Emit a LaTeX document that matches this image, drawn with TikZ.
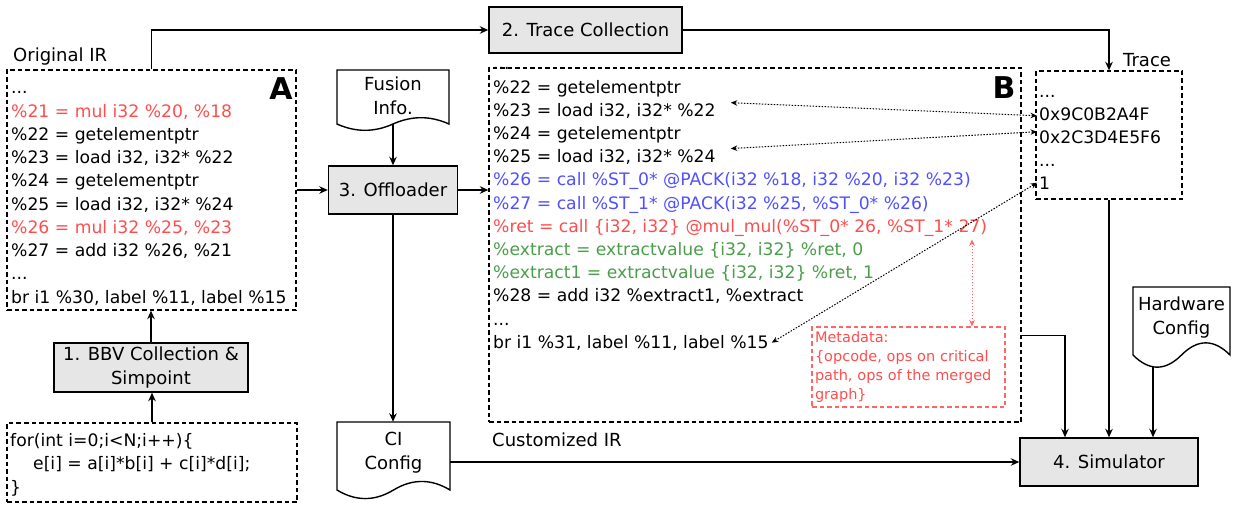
\documentclass[tikz,border=0pt]{standalone}
\usepackage{fontspec}
\setmainfont{DejaVu Sans}
\usetikzlibrary{arrows.meta,calc}
\definecolor{irred}{HTML}{FF4D4D}
\definecolor{irblue}{HTML}{5050FF}
\definecolor{irgreen}{HTML}{4A9E4A}
\definecolor{boxgray}{HTML}{E6E6E6}
\definecolor{metared}{HTML}{FF6666}
\newcommand\fcode{\fontsize{17.2}{23.25}\selectfont}
\newcommand\flabel{\fontsize{18}{24}\selectfont}
\newcommand\fmeta{\fontsize{14.5}{19}\selectfont}
\newcommand\fbig{\fontsize{30}{30}\selectfont\bfseries}
\newcommand\docshape[5]{%
  \draw[docline] (#1,#2) -- (#3,#2) -- (#3,#4)
    .. controls ({#3-(#3-#1)/6},{#4-0.6*#5}) and ({(#1+#3)/2+(#3-#1)/6},{#4-0.6*#5}) .. ({(#1+#3)/2},#4)
    .. controls ({(#1+#3)/2-(#3-#1)/6},{#4+0.6*#5}) and ({#1+(#3-#1)/6},{#4+0.6*#5}) .. (#1,#4) -- cycle;}
\tikzset{
  procbox/.style={draw=black, fill=boxgray, line width=1.4pt, inner sep=0pt, align=center, font=\flabel},
  dashbox/.style={draw=black, dash pattern=on 4.5pt off 3pt, line width=1.3pt, inner sep=0pt},
  holder/.style={inner sep=0pt},
  cl/.style={anchor=base west, inner sep=0pt, font=\fcode},
  lbl/.style={anchor=base west, inner sep=0pt, font=\flabel},
  doctext/.style={inner sep=0pt, align=center, font=\flabel},
  arr/.style={line width=1.4pt, -{Stealth[length=8.5pt,width=7.5pt]}},
  dotarr/.style={line width=1pt, dash pattern=on 1.5pt off 1.5pt, {Stealth[length=6.5pt,width=5.5pt]}-{Stealth[length=6.5pt,width=5.5pt]}},
  reddot/.style={draw=metared, line width=1pt, dash pattern=on 1.5pt off 1.5pt, {Stealth[length=6.5pt,width=5.5pt]}-{Stealth[length=6.5pt,width=5.5pt]}},
  docline/.style={draw=black, line width=1.4pt, fill=white},
  metabox/.style={draw=metared, dash pattern=on 4.5pt off 3pt, line width=1.2pt, text=irred, font=\fmeta, align=left, inner sep=2pt},
}
\begin{document}
\begin{tikzpicture}[x=1pt,y=-1pt]
\useasboundingbox (0,0) rectangle (1236,507);

% ---------- boxes ----------
\node[dashbox, minimum width=289pt, minimum height=240pt] (A) at (151.5,190) {};
\node[dashbox, minimum width=532pt, minimum height=354pt] (B) at (755,245) {};
\node[dashbox, minimum width=146pt, minimum height=128pt] (trace) at (1109,135) {};
\node[dashbox, minimum width=290pt, minimum height=79pt] (code) at (152,462.5) {};

\node[procbox, minimum width=193pt, minimum height=46pt] (tc) at (585.5,30) {2. Trace Collection};
\node[procbox, minimum width=129pt, minimum height=48pt] (off) at (393,190) {3. Offloader};
\node[procbox, minimum width=194pt, minimum height=49pt] (bbv) at (151,367.5) {1. BBV Collection \&\\Simpoint};
\node[procbox, minimum width=178pt, minimum height=48pt] (sim) at (1109,462) {4. Simulator};

% ---------- documents ----------
\docshape{337}{70}{449}{124}{14}
\node[holder, minimum width=112pt, minimum height=54pt] (fusion) at (393,97) {};
\node[doctext] (fusiontxt) at (393,96) {Fusion\\Info.};

\docshape{337}{422}{450}{490}{19}
\node[holder, minimum width=113pt, minimum height=68pt] (ci) at (393.5,456) {};
\node[doctext] (citxt) at (393.5,453) {CI\\Config};

\docshape{1133}{287}{1230}{355}{27}
\node[holder, minimum width=97pt, minimum height=68pt] (hw) at (1181.5,321) {};
\node[doctext] (hwtxt) at (1181.5,317.5) {Hardware\\Config};
\coordinate (hwb) at (1153,366);

% ---------- labels ----------
\node[lbl] (origlbl) at (13,61) {Original IR};
\node[lbl] (tracelbl) at (1123,66) {Trace};
\node[lbl] (custlbl) at (492,446) {Customized IR};
\node[inner sep=0pt, font=\fbig] (bigA) at (281,89) {A};
\node[inner sep=0pt, font=\fbig] (bigB) at (1004,88) {B};

% ---------- original IR ----------
\node[cl] (a0) at (11,93.75) {...};
\node[cl, text=irred] (a21) at (11,117) {\%21 = mul i32 \%20, \%18};
\node[cl] (a22) at (11,140.25) {\%22 = getelementptr};
\node[cl] (a23) at (11,163.5) {\%23 = load i32, i32* \%22};
\node[cl] (a24) at (11,186.75) {\%24 = getelementptr};
\node[cl] (a25) at (11,210) {\%25 = load i32, i32* \%24};
\node[cl, text=irred] (a26) at (11,233.25) {\%26 = mul i32 \%25, \%23};
\node[cl] (a27) at (11,256.5) {\%27 = add i32 \%26, \%21};
\node[cl] (a28) at (11,279.75) {...};
\node[cl] (abr) at (11,303) {br i1 \%30, label \%11, label \%15};

% ---------- customized IR ----------
\node[cl] (b0) at (493,69.8) {...};
\node[cl] (b22) at (493,93) {\%22 = getelementptr};
\node[cl] (b23) at (493,116.2) {\%23 = load i32, i32* \%22};
\node[cl] (b24) at (493,139.4) {\%24 = getelementptr};
\node[cl] (b25) at (493,162.6) {\%25 = load i32, i32* \%24};
\node[cl, text=irblue] (b26) at (493,185.8) {\%26 = call \%ST\_0* @PACK(i32 \%18, i32 \%20, i32 \%23)};
\node[cl, text=irblue] (b27) at (493,209) {\%27 = call \%ST\_1* @PACK(i32 \%25, \%ST\_0* \%26)};
\node[cl, text=irred] (bret) at (493,232.2) {\%ret = call \{i32, i32\} @mul\_mul(\%ST\_0* 26, \%ST\_1* 27)};
\node[cl, text=irgreen] (bex0) at (493,255.4) {\%extract = extractvalue \{i32, i32\} \%ret, 0};
\node[cl, text=irgreen] (bex1) at (493,278.6) {\%extract1 = extractvalue \{i32, i32\} \%ret, 1};
\node[cl] (b28) at (493,301.8) {\%28 = add i32 \%extract1, \%extract};
\node[cl] (b29) at (493,325) {...};
\node[cl] (bbr) at (493,348.2) {br i1 \%31, label \%11, label \%15};

% ---------- trace ----------
\node[cl] (t0) at (1039,97) {...};
\node[cl] (t1) at (1039,120) {0x9C0B2A4F};
\node[cl] (t2) at (1039,143) {0x2C3D4E5F6};
\node[cl] (t3) at (1039,166) {...};
\node[cl] (t5) at (1039,189) {1};

% ---------- source code ----------
\node[cl] (c1) at (10,446) {for(int i=0;i<N;i++)\{};
\node[cl] (c2) at (33,469.5) {e[i] = a[i]*b[i] + c[i]*d[i];};
\node[cl] (c3) at (10,493) {\}};

% ---------- metadata ----------
\node[metabox, minimum width=193pt, minimum height=80pt, text width=187pt] (meta) at (908.5,367)
  {Metadata:\\\{opcode, ops on critical\\path, ops of the merged\\graph\}};

% ---------- connectors ----------
\draw[arr] (A.east) -- (off.west);
\draw[arr] (off.east) -- (off.east -| B.west);
\draw[arr] (fusion.south) -- (fusion.south |- off.north);
\draw[arr] (off.south) -- (off.south |- ci.north);
\draw[arr] (A.north) |- (tc.west);
\draw[arr] (tc.east) -| (trace.north);
\draw[arr] (trace.south) -- (sim.north);
\draw[arr] ([yshift=87pt]B.south east) -| ([xshift=-44pt]sim.north);
\draw[arr] (hwb) -- (hwb |- sim.north);
\draw[arr] (ci.east |- sim.west) -- (sim.west);
\draw[arr] (code.north) -- (code.north |- bbv.south);
\draw[arr] (bbv.north) -- (bbv.north |- A.south);

\draw[dotarr] ([xshift=15pt,yshift=8pt]b23.east) -- ([xshift=-2pt,yshift=-2pt]t1.west);
\draw[dotarr] ([xshift=15pt,yshift=8.5pt]b25.east) -- ([xshift=-2pt,yshift=5pt]t2.west);
\draw[dotarr] ([xshift=3pt]bbr.east) -- ([xshift=-2pt]t5.west);
\draw[reddot] ([xshift=63.5pt]meta.north) -- ([xshift=63.5pt,yshift=87pt]meta.north);
\end{tikzpicture}
\end{document}
